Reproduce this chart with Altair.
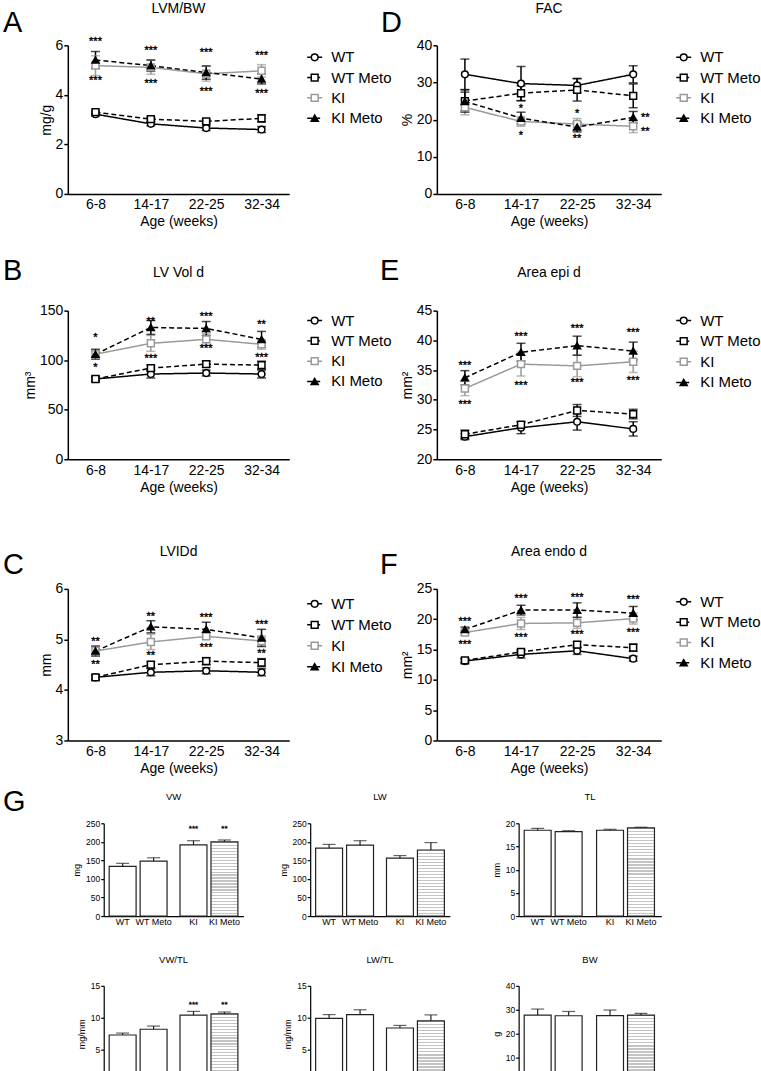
import altair as alt
import pandas as pd

FONT = "Liberation Sans"
AGES = ["6-8", "14-17", "22-25", "32-34"]
SERIES = ["WT", "WT Meto", "KI", "KI Meto"]

# ---- Panel A: LVM/BW (mg/g)
A_WT = [3.22, 2.83, 2.66, 2.60]
A_WT_SEM = [0.07, 0.08, 0.10, 0.12]
A_WTM = [3.30, 3.02, 2.93, 3.05]
A_WTM_SEM = [0.07, 0.08, 0.08, 0.15]
A_KI = [5.18, 5.11, 4.85, 4.97]
A_KI_SEM = [0.40, 0.28, 0.30, 0.25]
A_KIM = [5.41, 5.18, 4.90, 4.64]
A_KIM_SEM = [0.34, 0.23, 0.27, 0.20]
A_TOP = ["***", "***", "***", "***"]
A_TOP_Y = [6.21, 5.85, 5.75, 5.64]
A_BOT = ["***", "***", "***", "***"]
A_BOT_Y = [4.64, 4.51, 4.20, 4.10]

# ---- Panel D: FAC (%)
D_WT = [32.2, 29.7, 29.2, 32.2]
D_WT_SEM = [4.1, 4.6, 1.9, 2.3]
D_WTM = [25.0, 27.1, 28.0, 26.4]
D_WTM_SEM = [3.0, 2.0, 3.0, 3.2]
D_KI = [23.3, 19.5, 18.8, 18.2]
D_KI_SEM = [2.0, 1.3, 1.5, 1.7]
D_KIM = [24.9, 20.4, 18.0, 20.6]
D_KIM_SEM = [2.5, 1.6, 1.3, 1.6]
D_TOP = ["", "*", "*", ""]
D_TOP_Y = [None, 23.5, 22.0, None]
D_BOT = ["", "*", "**", ""]
D_BOT_Y = [None, 16.1, 15.3, None]
D_SIDE = ["**", "**"]
D_SIDE_Y = [20.9, 17.3]

# ---- Panel B: LV Vol d (mm3)
B_WT = [81, 86, 87, 86]
B_WT_SEM = [3, 4, 3, 4]
B_WTM = [81, 92, 96, 95]
B_WTM_SEM = [2, 3, 3, 4]
B_KI = [106, 117, 121, 116]
B_KI_SEM = [3, 8, 6, 5]
B_KIM = [106, 133, 132, 121]
B_KIM_SEM = [5, 7, 7, 8]
B_TOP = ["*", "**", "***", "**"]
B_TOP_Y = [124, 141, 146, 137]
B_BOT = ["*", "***", "***", "***"]
B_BOT_Y = [94, 103, 113, 104]

# ---- Panel E: Area epi d (mm2)
E_WT = [23.8, 25.3, 26.3, 25.1]
E_WT_SEM = [0.5, 1.0, 1.4, 1.2]
E_WTM = [24.2, 25.8, 28.2, 27.6]
E_WTM_SEM = [0.7, 0.5, 1.0, 0.8]
E_KI = [31.9, 36.0, 35.7, 36.4]
E_KI_SEM = [1.2, 2.0, 1.8, 1.8]
E_KIM = [33.7, 38.0, 39.1, 38.2]
E_KIM_SEM = [1.2, 1.5, 1.6, 1.5]
E_TOP = ["***", "***", "***", "***"]
E_TOP_Y = [36.1, 40.9, 42.3, 41.5]
E_BOT = ["***", "***", "***", "***"]
E_BOT_Y = [29.5, 32.6, 33.1, 33.5]

# ---- Panel C: LVIDd (mm)
C_WT = [4.25, 4.35, 4.38, 4.35]
C_WT_SEM = [0.05, 0.07, 0.06, 0.07]
C_WTM = [4.25, 4.50, 4.57, 4.54]
C_WTM_SEM = [0.05, 0.06, 0.07, 0.08]
C_KI = [4.77, 4.95, 5.06, 4.97]
C_KI_SEM = [0.08, 0.15, 0.06, 0.10]
C_KIM = [4.77, 5.25, 5.20, 5.03]
C_KIM_SEM = [0.10, 0.12, 0.14, 0.17]
C_TOP = ["**", "**", "***", "***"]
C_TOP_Y = [4.99, 5.48, 5.46, 5.33]
C_BOT = ["**", "**", "***", "**"]
C_BOT_Y = [4.53, 4.71, 4.87, 4.76]

# ---- Panel F: Area endo d (mm2)
F_WT = [13.1, 14.2, 14.8, 13.5]
F_WT_SEM = [0.4, 0.6, 0.6, 0.4]
F_WTM = [13.2, 14.6, 15.8, 15.3]
F_WTM_SEM = [0.3, 0.4, 0.5, 0.6]
F_KI = [17.8, 19.3, 19.4, 20.1]
F_KI_SEM = [0.4, 1.0, 0.9, 0.9]
F_KIM = [18.3, 21.5, 21.5, 21.0]
F_KIM_SEM = [0.4, 0.8, 1.2, 1.1]
F_TOP = ["***", "***", "***", "***"]
F_TOP_Y = [19.8, 23.7, 23.8, 23.5]
F_BOT = ["***", "***", "***", "***"]
F_BOT_Y = [16.0, 17.2, 17.7, 18.0]

# ---- Panel G bars
BAR_LABELS = ["WT", "WT Meto", "KI", "KI Meto"]
BAR_GROUP = ["WT", "WT", "KI", "KI"]
BAR_TRT = ["ctrl", "meto", "ctrl", "meto"]
VW = [134, 148, 192, 200]
VW_SEM = [8, 9, 11, 5]
VW_STARS = ["", "", "***", "**"]
VW_STAR_Y = [None, None, 236, 236]
LW = [183, 191, 156, 178]
LW_SEM = [10, 12, 7, 20]
TL = [18.5, 18.2, 18.5, 19.0]
TL_SEM = [0.4, 0.2, 0.2, 0.15]
VWTL = [7.3, 8.2, 10.4, 10.6]
VWTL_SEM = [0.3, 0.5, 0.6, 0.3]
VWTL_STARS = ["", "", "***", "**"]
VWTL_STAR_Y = [None, None, 12.2, 12.2]
LWTL = [9.9, 10.5, 8.4, 9.5]
LWTL_SEM = [0.6, 0.75, 0.4, 0.95]
BW = [27.8, 27.5, 27.6, 27.8]
BW_SEM = [2.5, 1.8, 2.3, 0.7]

# ---- styles
COLORS = ["#000000", "#000000", "#9a9a9a", "#000000"]
DASHES = [[1, 0], [5, 3], [1, 0], [5, 3]]
SHAPES = ["circle", "square", "square", "triangle-up"]
FILLS = ["#ffffff", "#ffffff", "#ffffff", "#000000"]
SIZES = [45, 50, 26, 60]

color_enc = alt.Color("series:N", scale=alt.Scale(domain=SERIES, range=COLORS), legend=None)
stroke_enc = alt.Stroke("series:N", scale=alt.Scale(domain=SERIES, range=COLORS), legend=None)
dash_enc = alt.StrokeDash("series:N", scale=alt.Scale(domain=SERIES, range=DASHES), legend=None)
shape_enc = alt.Shape("series:N", scale=alt.Scale(domain=SERIES, range=SHAPES), legend=None)
fill_enc = alt.Fill("series:N", scale=alt.Scale(domain=SERIES, range=FILLS), legend=None)
size_enc = alt.Size("series:N", scale=alt.Scale(domain=SERIES, range=SIZES), legend=None)

STAR_STYLE = dict(font=FONT, baseline="middle", fill="black", stroke="black",
                  strokeWidth=0.35)


def series_df(means, sems):
    rows = []
    for s, m, e in zip(SERIES, means, sems):
        for a, mv, ev in zip(AGES, m, e):
            rows.append({"age": a, "series": s, "mean": mv, "lo": mv - ev, "hi": mv + ev})
    return pd.DataFrame(rows)


def star_df(labels, ys):
    rows = []
    for a, l, y in zip(AGES, labels, ys):
        if l:
            rows.append({"age": a, "label": l, "y": y})
    return pd.DataFrame(rows)


def letter_layer(letter, lx, ly, opacity=1):
    return alt.Chart(pd.DataFrame({"t": [letter]})).mark_text(
        fontSize=29, font=FONT, align="left", baseline="alphabetic", fill="black",
        opacity=opacity
    ).encode(text="t:N", x=alt.value(lx), y=alt.value(ly))


def anchor_layer(yb):
    # invisible point fixing the bottom of a row's bounds
    return alt.Chart(pd.DataFrame({"f": [0]})).mark_point(opacity=0, size=1).encode(
        x=alt.value(0), y=alt.value(yb))


def title(text, size, offset, dy=0):
    return alt.TitleParams(text=text, fontSize=size, font=FONT, fontWeight="normal",
                           offset=offset, dy=dy, anchor="middle", color="black",
                           frame="group", baseline="alphabetic")


def line_panel(letter, lx, ly, ttl, ty, ytitle, dom, ticks, means, sems,
               stars, w, h, side=None):
    df = series_df(means, sems)
    xaxis = alt.Axis(title="Age (weeks)", labelAngle=0, ticks=False, tickSize=0,
                     labelPadding=4, titlePadding=3, labelFontSize=14, titleFontSize=14,
                     domainWidth=1.5, grid=False)
    yaxis = alt.Axis(title=ytitle, values=ticks, tickSize=4, tickWidth=1.5, labelPadding=1,
                     titlePadding=2, labelFontSize=14, titleFontSize=14, domainWidth=1.5,
                     grid=False)
    xs = alt.Scale(type="point", domain=AGES, padding=0.5)
    ys = alt.Scale(domain=dom, nice=False, zero=False)
    X = alt.X("age:N", sort=AGES, scale=xs, axis=xaxis)
    base = alt.Chart(df)
    lines = base.mark_line(strokeWidth=1.5).encode(
        x=X, y=alt.Y("mean:Q", scale=ys, axis=yaxis), color=color_enc, strokeDash=dash_enc)
    err = base.mark_rule(strokeWidth=1.5).encode(
        x=X, y=alt.Y("lo:Q", scale=ys, axis=yaxis), y2="hi:Q", color=color_enc)
    cap_hi = base.mark_tick(thickness=1.5, size=9).encode(
        x=X, y=alt.Y("hi:Q", scale=ys, axis=yaxis), color=color_enc)
    cap_lo = base.mark_tick(thickness=1.5, size=9).encode(
        x=X, y=alt.Y("lo:Q", scale=ys, axis=yaxis), color=color_enc)
    pts = base.mark_point(opacity=1, fillOpacity=1, strokeWidth=1.5).encode(
        x=X, y=alt.Y("mean:Q", scale=ys, axis=yaxis), shape=shape_enc, fill=fill_enc,
        stroke=stroke_enc, size=size_enc)
    layers = [err, cap_hi, cap_lo, lines, pts]
    for labels, yv in stars:
        sdf = star_df(labels, yv)
        layers.append(alt.Chart(sdf).mark_text(fontSize=11, dy=2, **STAR_STYLE).encode(
            x=X, y=alt.Y("y:Q", scale=ys, axis=yaxis), text="label:N"))
    if side is not None:
        sdf = pd.DataFrame({"age": ["32-34"] * len(side[0]), "label": side[0], "y": side[1]})
        layers.append(alt.Chart(sdf).mark_text(fontSize=11, dy=2, dx=12, **STAR_STYLE).encode(
            x=X, y=alt.Y("y:Q", scale=ys, axis=yaxis), text="label:N"))
    layers.append(letter_layer(letter, lx, ly))
    # the group title sits on the top of the bounds (the letter, top = ly - 23);
    # dy moves it down to its place above the plot
    dy = ty - (ly - 23)
    return alt.layer(*layers).properties(width=w, height=h, title=title(ttl, 14, 0, dy))


def legend_chart(w, h, x0, yrange):
    df = pd.DataFrame({"series": SERIES})
    Y = alt.Y("series:N", sort=SERIES,
              scale=alt.Scale(type="point", domain=SERIES, range=yrange, padding=0),
              axis=None)
    rule = alt.Chart(df).mark_rule(strokeWidth=1.5).encode(
        x=alt.value(x0), x2=alt.value(x0 + 15), y=Y, color=color_enc, strokeDash=dash_enc)
    pts = alt.Chart(df).mark_point(opacity=1, fillOpacity=1, strokeWidth=1.5).encode(
        x=alt.value(x0 + 7.5), y=Y, shape=shape_enc, fill=fill_enc, stroke=stroke_enc,
        size=size_enc)
    txt = alt.Chart(df).mark_text(align="left", baseline="middle", fontSize=15, font=FONT,
                                  fill="black").encode(
        x=alt.value(x0 + 24), y=Y, text="series:N")
    return alt.layer(rule, pts, txt, anchor_layer(h)).properties(width=w, height=h)


def spacer(w, h, letter=None, lx=0, ly=0, ghost=False):
    layers = [anchor_layer(h)]
    if letter:
        layers.append(letter_layer(letter, lx, ly, opacity=0 if ghost else 1))
    return alt.layer(*layers).properties(width=w, height=h)


def hatch(hpx):
    n = max(1, int(round(hpx / 3.0)))
    stops = []
    for i in range(n):
        a = i / n
        b = (i + 0.4) / n
        c = (i + 1) / n
        stops += [{"offset": a, "color": "#c4c4c4"}, {"offset": b, "color": "#c4c4c4"},
                  {"offset": b, "color": "#ffffff"}, {"offset": min(c, 1.0), "color": "#ffffff"}]
    return {"gradient": "linear", "x1": 0, "y1": 0, "x2": 0, "y2": 1, "stops": stops}


def bar_panel(ttl, ytitle, vals, sems, ymax, ticks, w, h, stars=None):
    df = pd.DataFrame({"label": BAR_LABELS, "grp": BAR_GROUP, "trt": BAR_TRT,
                       "v": vals, "top": [v + e for v, e in zip(vals, sems)]})
    X = alt.X("grp:N", sort=["WT", "KI"],
              scale=alt.Scale(domain=["WT", "KI"], paddingInner=0.183, paddingOuter=0.077),
              axis=alt.Axis(labels=False, ticks=False, title=None, domainWidth=1.2,
                            grid=False))
    XO = alt.XOffset("trt:N", scale=alt.Scale(domain=["ctrl", "meto"], paddingInner=0.13,
                                               paddingOuter=0))
    ys = alt.Scale(domain=[0, ymax], nice=False)
    yaxis = alt.Axis(title=ytitle, values=ticks, tickSize=3, tickWidth=1.2, labelPadding=1,
                     titlePadding=4, labelFontSize=8.5, titleFontSize=9, domainWidth=1.2,
                     grid=False)
    base = alt.Chart(df)
    bars = base.transform_filter("datum.label != 'KI Meto'").mark_bar(
        stroke="#222222", strokeWidth=1.2).encode(
        x=X, xOffset=XO, y=alt.Y("v:Q", scale=ys, axis=yaxis),
        fill=alt.Fill("label:N", scale=alt.Scale(domain=BAR_LABELS,
                                                  range=["#ffffff", "#000000", "#d2d2d2",
                                                         "#ffffff"]), legend=None))
    hpx = vals[3] / ymax * h
    hbar = base.transform_filter("datum.label == 'KI Meto'").mark_bar(
        stroke="#222222", strokeWidth=1.2, fill=hatch(hpx)).encode(
        x=X, xOffset=XO, y=alt.Y("v:Q", scale=ys, axis=yaxis))
    err = base.mark_rule(color="#222222", strokeWidth=1.2).encode(
        x=X, xOffset=XO, y=alt.Y("v:Q", scale=ys, axis=yaxis), y2="top:Q")
    cap = base.mark_tick(color="#222222", thickness=1.2, size=13).encode(
        x=X, xOffset=XO, y=alt.Y("top:Q", scale=ys, axis=yaxis))
    labels = base.mark_text(fontSize=9, font=FONT, baseline="middle", fill="black").encode(
        x=X, xOffset=XO, y=alt.value(h + 6), text="label:N")
    layers = [bars, hbar, err, cap, labels]
    if stars is not None:
        sdf = pd.DataFrame({"grp": BAR_GROUP, "trt": BAR_TRT, "s": stars[0], "y": stars[1]})
        sdf = sdf[sdf["s"] != ""]
        layers.append(alt.Chart(sdf).mark_text(fontSize=8, dy=1, **STAR_STYLE).encode(
            x=X, xOffset=XO, y=alt.Y("y:Q", scale=ys, axis=yaxis), text="s:N"))
    return alt.layer(*layers).properties(width=w, height=h, title=title(ttl, 9.5, 9.5))


pA = line_panel("A", -65, -13.7, "LVM/BW", -18, "mg/g", [0, 6], [0, 2, 4, 6],
                [A_WT, A_WTM, A_KI, A_KIM], [A_WT_SEM, A_WTM_SEM, A_KI_SEM, A_KIM_SEM],
                [(A_TOP, A_TOP_Y), (A_BOT, A_BOT_Y)], 222, 149)
pD = line_panel("D", -56, -13.7, "FAC", -18.5, "%", [0, 40], [0, 10, 20, 30, 40],
                [D_WT, D_WTM, D_KI, D_KIM], [D_WT_SEM, D_WTM_SEM, D_KI_SEM, D_KIM_SEM],
                [(D_TOP, D_TOP_Y), (D_BOT, D_BOT_Y)], 225, 149, side=(D_SIDE, D_SIDE_Y))
pB = line_panel("B", -65, -31, "LV Vol d", -20, "mm³", [0, 150], [0, 50, 100, 150],
                [B_WT, B_WTM, B_KI, B_KIM], [B_WT_SEM, B_WTM_SEM, B_KI_SEM, B_KIM_SEM],
                [(B_TOP, B_TOP_Y), (B_BOT, B_BOT_Y)], 222, 149)
pE = line_panel("E", -57, -31, "Area epi d", -20, "mm²", [20, 45], [20, 25, 30, 35, 40, 45],
                [E_WT, E_WTM, E_KI, E_KIM], [E_WT_SEM, E_WTM_SEM, E_KI_SEM, E_KIM_SEM],
                [(E_TOP, E_TOP_Y), (E_BOT, E_BOT_Y)], 225, 149)
pC = line_panel("C", -65, -15, "LVIDd", -19, "mm", [3, 6], [3, 4, 5, 6],
                [C_WT, C_WTM, C_KI, C_KIM], [C_WT_SEM, C_WTM_SEM, C_KI_SEM, C_KIM_SEM],
                [(C_TOP, C_TOP_Y), (C_BOT, C_BOT_Y)], 222, 152)
pF = line_panel("F", -57, -15, "Area endo d", -19, "mm²", [0, 25], [0, 5, 10, 15, 20, 25],
                [F_WT, F_WTM, F_KI, F_KIM], [F_WT_SEM, F_WTM_SEM, F_KI_SEM, F_KIM_SEM],
                [(F_TOP, F_TOP_Y), (F_BOT, F_BOT_Y)], 225, 152)

gVW = bar_panel("VW", "mg", VW, VW_SEM, 250, [0, 50, 100, 150, 200, 250], 140, 93,
                stars=(VW_STARS, VW_STAR_Y))
gLW = bar_panel("LW", "mg", LW, LW_SEM, 250, [0, 50, 100, 150, 200, 250], 140, 93)
gTL = bar_panel("TL", "mm", TL, TL_SEM, 20, [0, 5, 10, 15, 20], 143, 93)
gVWTL = bar_panel("VW/TL", "mg/mm", VWTL, VWTL_SEM, 15, [0, 5, 10, 15], 140, 96,
                  stars=(VWTL_STARS, VWTL_STAR_Y))
gLWTL = bar_panel("LW/TL", "mg/mm", LWTL, LWTL_SEM, 15, [0, 5, 10, 15], 140, 96)
gBW = bar_panel("BW", "g", BW, BW_SEM, 40, [0, 10, 20, 30, 40], 143, 96)


def row(*charts):
    return alt.hconcat(*charts, spacing=0, bounds="flush")


H1, H2, H3, H4 = 211, 234, 199, 131
rows = [
    row(pA, legend_chart(148, H1, 18, [12, 73]), pD, legend_chart(90, H1, 15, [12, 73])),
    row(pB, legend_chart(148, H2, 18, [10, 71]), pE, legend_chart(90, H2, 15, [10, 72])),
    row(pC, legend_chart(148, H3, 18, [15, 78]), pF, legend_chart(90, H3, 15, [13, 74])),
    row(spacer(36, H4, "G", -65, -12), gVW, spacer(67, H4), gLW, spacer(69, H4), gTL),
    row(spacer(36, 90, "G", -65, 40, ghost=True), gVWTL, spacer(67, 90), gLWTL,
        spacer(69, 90), gBW),
]

chart = alt.vconcat(*rows, spacing=0).properties(
    padding={"left": 3, "top": 0, "right": 0, "bottom": 0}
).configure_view(stroke=None).configure_axis(
    labelFont=FONT, titleFont=FONT, domainColor="black", tickColor="black",
    labelColor="black", titleColor="black", titleFontWeight="normal", grid=False
)

chart.save("out.html", embed_options={"renderer": "svg", "actions": False})
